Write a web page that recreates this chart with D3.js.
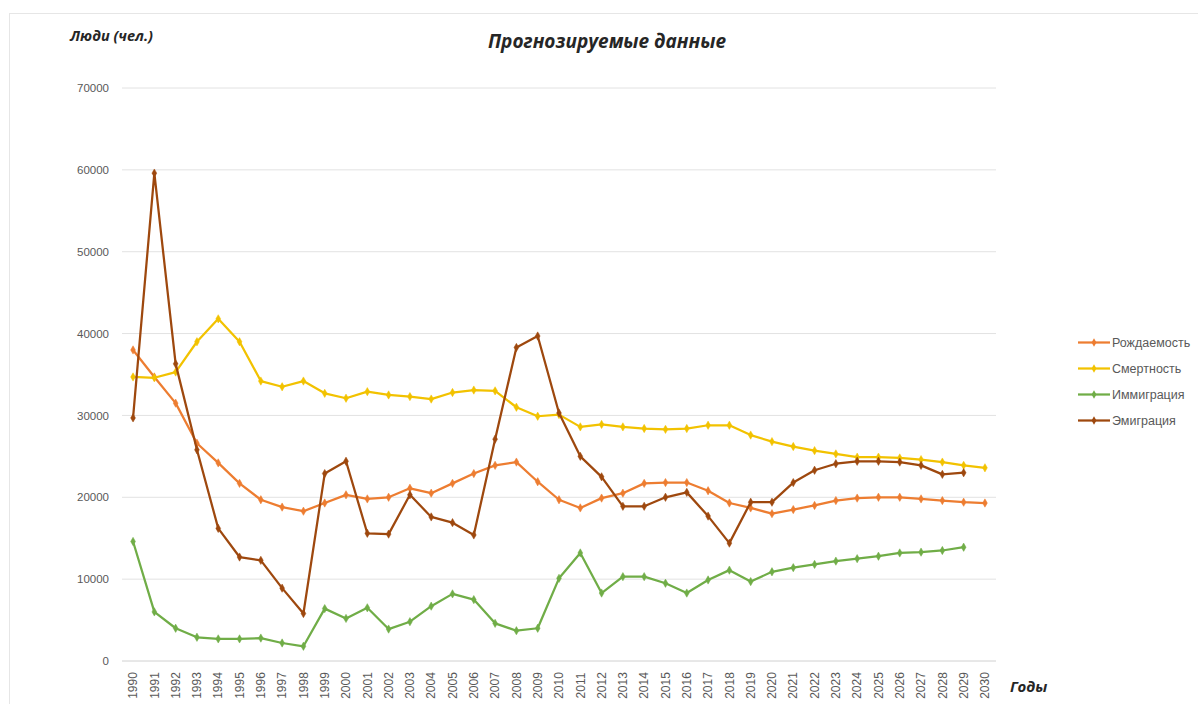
<!DOCTYPE html>
<html><head><meta charset="utf-8">
<script src="https://cdn.jsdelivr.net/npm/d3@7"></script>
<style>body{margin:0;background:#fff;}svg{display:block;}</style>
</head><body>
<svg id="c" width="1198" height="704"></svg>
<script>
const years = d3.range(1990, 2031).map(String);
const seriesNames = ["Рождаемость", "Смертность", "Иммиграция", "Эмиграция"];
const seriesColors = ["#ED7D31", "#F2C200", "#70AD47", "#9E480E"];
const birth = [38000,34700,31500,26600,24200,21700,19700,18800,18300,19300,20300,19800,20000,21100,20500,21700,22900,23900,24300,21900,19700,18700,19900,20500,21700,21800,21800,20800,19300,18700,18000,18500,19000,19600,19900,20000,20000,19800,19600,19400,19300];
const death = [34700,34600,35300,39000,41800,39000,34200,33500,34200,32700,32100,32900,32500,32300,32000,32800,33100,33000,31000,29900,30100,28600,28900,28600,28400,28300,28400,28800,28800,27600,26800,26200,25700,25300,24900,24900,24800,24600,24300,23900,23600];
const immig = [14600,6000,4000,2900,2700,2700,2800,2200,1800,6400,5200,6500,3900,4800,6700,8200,7500,4600,3700,4000,10100,13200,8300,10300,10300,9500,8300,9900,11100,9700,10900,11400,11800,12200,12500,12800,13200,13300,13500,13900,null];
const emig = [29700,59600,36300,25800,16200,12700,12300,8900,5800,22900,24400,15600,15500,20300,17600,16900,15400,27100,38300,39700,30300,25000,22500,18900,18900,20000,20600,17700,14400,19400,19400,21800,23300,24100,24400,24400,24300,23900,22800,23000,null];
const yTicks = [0,10000,20000,30000,40000,50000,60000,70000];
const title = "Прогнозируемые данные";
const yTitle = "Люди (чел.)";
const xTitle = "Годы";

const svg = d3.select("#c");
svg.append("rect").attr("x",9.5).attr("y",13.5).attr("width",1200).attr("height",700)
  .attr("fill","none").attr("stroke","#e6e6e6");

const x = d3.scaleBand().domain(years).range([122.4, 995.6]);
const y = d3.scaleLinear().domain([0,70000]).range([661, 88]);

svg.append("g").selectAll("line").data(yTicks).join("line")
  .attr("x1",122).attr("x2",996)
  .attr("y1",d=>y(d)).attr("y2",d=>y(d))
  .attr("stroke",d=>d===0?"#d0d0d0":"#e2e2e2").attr("stroke-width",1);

const tickFont = "Liberation Sans, Arial, sans-serif";
const yAxis = d3.axisLeft(y).tickValues(yTicks).tickSize(0).tickPadding(0).tickFormat(d3.format("d"));
const ya = svg.append("g").attr("transform","translate(109,0)").call(yAxis);
ya.select(".domain").remove();
ya.selectAll("text").attr("fill","#595959").style("font-family",tickFont).style("font-size","11.5px");

const xAxis = d3.axisBottom(x).tickSize(0).tickPadding(0);
const xa = svg.append("g").attr("transform","translate(0,685.5)").call(xAxis);
xa.select(".domain").remove();
xa.selectAll("text").attr("fill","#595959").style("font-family",tickFont).style("font-size","12px")
  .attr("x",0).attr("y",0).attr("dy","0.35em").attr("text-anchor","middle")
  .attr("transform","rotate(-90)");

const all = [birth, death, immig, emig];
const line = d3.line().defined(d=>d.v!=null).x(d=>x(d.yr)+x.bandwidth()/2).y(d=>y(d.v));
all.forEach((arr,i)=>{
  const pts = arr.map((v,k)=>({yr:years[k], v}));
  svg.append("path").datum(pts).attr("d",line).attr("fill","none")
    .attr("stroke",seriesColors[i]).attr("stroke-width",2.25).attr("stroke-linejoin","round");
  svg.append("g").selectAll("path").data(pts.filter(d=>d.v!=null)).join("path")
    .attr("d", d3.symbol(d3.symbolDiamond, 20)())
    .attr("transform",d=>`translate(${x(d.yr)+x.bandwidth()/2},${y(d.v)})`)
    .attr("fill",seriesColors[i]).attr("stroke",seriesColors[i]).attr("stroke-width",0.5);
});

const titleFont = "Open Sans, sans-serif";
svg.append("text").attr("x",607).attr("y",48).attr("text-anchor","middle")
  .style("font-family",titleFont).style("font-weight","bold").style("font-style","italic")
  .style("font-size","19px").attr("fill","#262626").text(title);
svg.append("text").attr("x",70).attr("y",41)
  .style("font-family",titleFont).style("font-weight","bold").style("font-style","italic")
  .style("font-size","14.5px").attr("fill","#262626").text(yTitle);
svg.append("text").attr("x",1010).attr("y",692)
  .style("font-family",titleFont).style("font-weight","bold").style("font-style","italic")
  .style("font-size","15px").attr("fill","#262626").text(xTitle);

const lg = svg.append("g");
seriesNames.forEach((n,i)=>{
  const yy = 342.5 + i*26;
  lg.append("line").attr("x1",1078).attr("x2",1110).attr("y1",yy).attr("y2",yy)
    .attr("stroke",seriesColors[i]).attr("stroke-width",2.25);
  lg.append("path").attr("d",d3.symbol(d3.symbolDiamond,20)())
    .attr("transform",`translate(1094,${yy})`).attr("fill",seriesColors[i]);
  lg.append("text").attr("x",1112).attr("y",yy).attr("dy","0.35em")
    .style("font-family",tickFont).style("font-size","12.5px")
    .attr("fill","#595959").text(n);
});
</script>
</body></html>
